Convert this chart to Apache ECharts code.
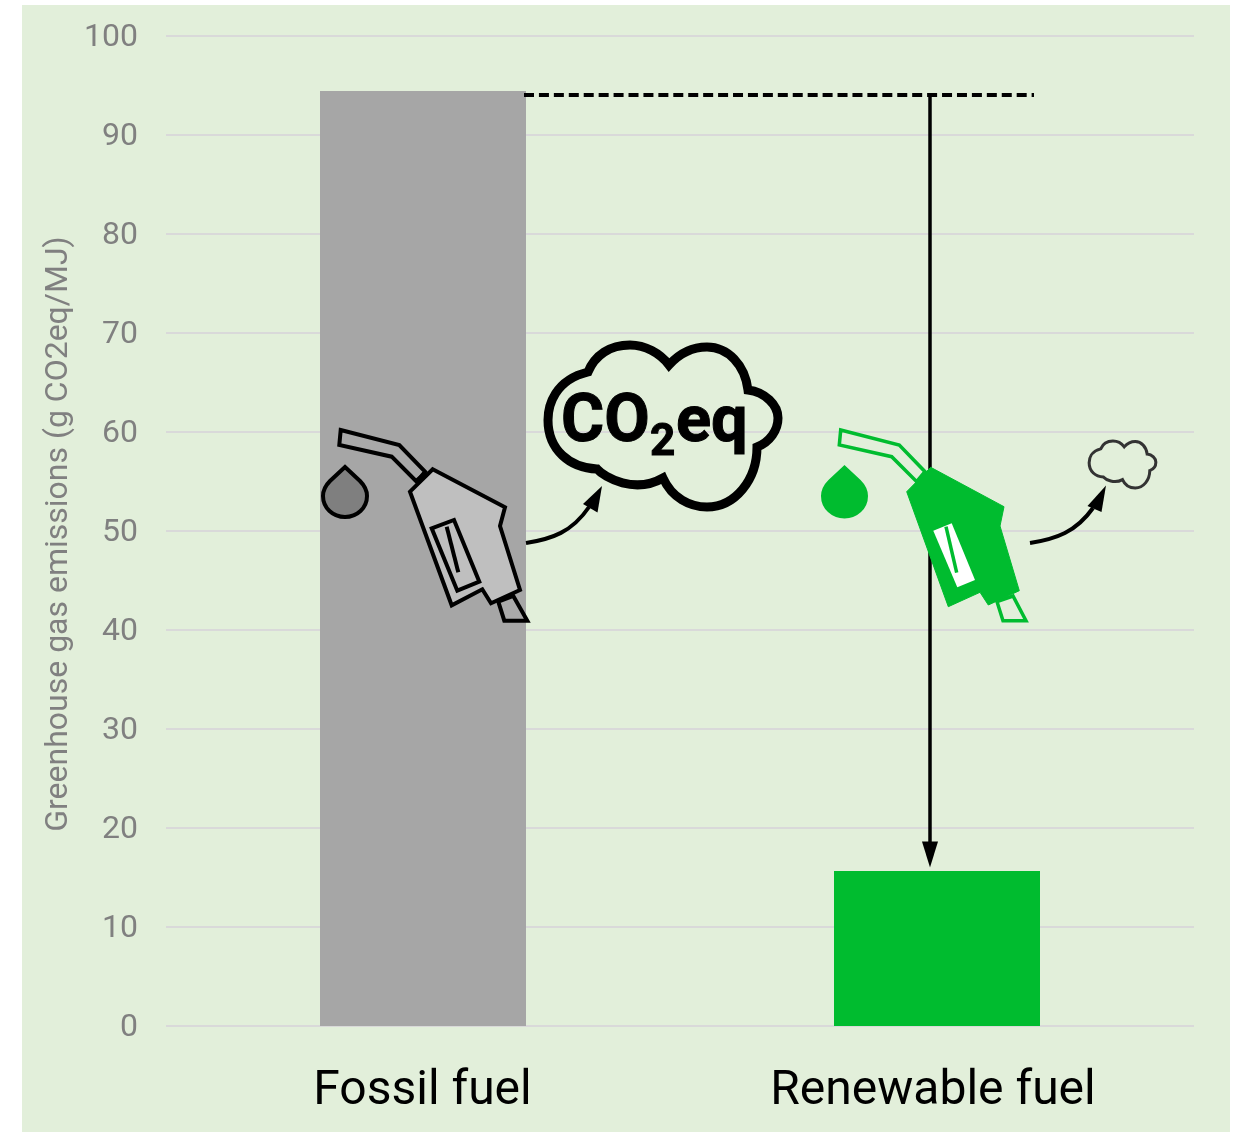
<!DOCTYPE html>
<html>
<head>
<meta charset="utf-8">
<style>html,body{margin:0;padding:0;background:#fff}#chart{width:1238px;height:1132px}</style>
<script src="https://cdn.jsdelivr.net/npm/echarts@6/dist/echarts.min.js"></script>
</head>
<body>
<div id="chart"></div>
<script>
// Lifecycle emissions of the two fuels
const categories = ['Fossil fuel', 'Renewable fuel'];
const emissions = [94.45, 15.65];
const barColors = ['#a6a6a6', '#00bc2f'];
const axisTitle = 'Greenhouse gas emissions (g CO2eq/MJ)';
const yMin = 0;
const yMax = 100;
const yStep = 10;
// Level the dashed reference line sits at, just under the top of the fossil bar
const referenceLevel = 94.05;

const GREEN = '#00bc2f';
const CLOUD = 'M588,372C555,380 548,405 548,420C548,450 570,468 597,469C605,478 635,494 663,478' +
  'C672,498 690,507 707,507C735,507 757,480 757,447C770,442 778,430 778,418C778,405 765,392 748,390' +
  'C745,365 728,347 707,347C690,347 678,355 669,365C660,353 645,345 630,345C610,345 595,355 588,372Z';

function poly(points, style) {
  return { type: 'polygon', shape: { points }, style: Object.assign({ lineJoin: 'miter' }, style) };
}
function seg(x1, y1, x2, y2, lineWidth, stroke, extra) {
  return { type: 'line', shape: { x1, y1, x2, y2 }, style: Object.assign({ stroke, lineWidth }, extra) };
}
function drop(dx, style) {
  const c = 345 + dx;
  return {
    type: 'path', style,
    shape: {
      pathData: `M${c},467L${c + 15},481C${c + 19},485 ${c + 22},490 ${c + 22},496C${c + 22},508 ${c + 12},517 ${c},517C${c - 12},517 ${c - 22},508 ${c - 22},496C${c - 22},490 ${c - 19},485 ${c - 15},481Z`,
      x: c - 22, y: 467, width: 44, height: 50
    }
  };
}
function curvedArrow(d, box, head) {
  return [
    { type: 'path', shape: { pathData: d, x: box[0], y: box[1], width: box[2], height: box[3] }, style: { fill: 'none', stroke: '#000', lineWidth: 4 } },
    poly(head, { fill: '#000' })
  ];
}
function fossilPump() {
  const s = { stroke: '#000', lineWidth: 4 };
  return [
    drop(0, Object.assign({ fill: '#7f7f7f' }, s)),
    poly([[340.7, 430], [399.3, 445], [425, 471.7], [416.7, 481.7], [391.7, 456.7], [339.3, 445]], Object.assign({ fill: '#a9a9a9' }, s)),
    poly([[498.3, 601.7], [513.3, 596], [527.3, 620.7], [504.3, 620.7]], Object.assign({ fill: '#a9a9a9' }, s)),
    poly([[432.7, 469.3], [505, 507.3], [500, 526], [520, 590], [491, 603.3], [482.3, 589.3], [451.7, 605.3], [410, 491.7]], Object.assign({ fill: '#bfbfbf' }, s)),
    seg(416.7, 481.7, 427, 473, 6, '#000'),
    poly([[431.7, 528.3], [454, 520], [479.3, 581.7], [457.3, 590.7]], Object.assign({ fill: '#bfbfbf' }, s)),
    seg(446.7, 526.7, 458.3, 572.3, 4, '#000')
  ];
}
function greenPump() {
  const s = { stroke: GREEN, lineWidth: 3.5, fill: 'none' };
  return [
    drop(499.5, { fill: GREEN, stroke: GREEN, lineWidth: 3 }),
    poly([[840.7, 430], [899.3, 445], [925, 471.7], [916.7, 481.7], [891.7, 456.7], [839.3, 445]], s),
    poly([[997, 601.7], [1013, 596], [1026, 620.7], [1003, 620.7]], s),
    poly([[930.7, 467.3], [1004, 506.7], [1000, 526], [1019.3, 590.7], [988.3, 605], [980, 592.3], [948.3, 606.7], [906.7, 491.7]], { fill: GREEN, stroke: GREEN, lineWidth: 1 }),
    poly([[933.3, 530.7], [951.7, 523.3], [975, 580], [957.3, 587.3]], { fill: '#fff' }),
    seg(946, 526.7, 956.7, 572.7, 3.5, GREEN)
  ];
}
function bigCloud() {
  const label = (text, x, y, size) => ({
    type: 'text', x, y,
    style: { text, fill: '#000', stroke: '#000', lineWidth: 1, font: `bold ${size}px Roboto, sans-serif`, textAlign: 'left', textVerticalAlign: 'bottom' }
  });
  return [
    { type: 'path', shape: { pathData: CLOUD, x: 548, y: 345, width: 230, height: 162 }, style: { fill: 'none', stroke: '#000', lineWidth: 9 } },
    label('CO', 561, 457, 66),
    label('2', 650, 466, 44),
    label('eq', 676, 457, 65)
  ];
}
function smallCloud() {
  return {
    type: 'path',
    shape: { pathData: CLOUD, x: 1088, y: 441, width: 69, height: 47 },
    style: { fill: 'none', stroke: '#333', lineWidth: 3 }
  };
}

// Everything drawn over the bars; vertical anchors come from the value axis
function renderAnnotations(params, api) {
  const yPx = v => api.coord([0, v])[1];
  const refY = yPx(referenceLevel);
  const tipY = yPx(emissions[1] + 0.35);
  const children = [
    seg(524, refY, 1034, refY, 4, '#000', { lineDash: [10, 4.93] }),
    seg(930, refY, 930, tipY - 20, 3.5, '#000'),
    poly([[922, tipY - 26], [938, tipY - 26], [930, tipY]], { fill: '#000' }),
    ...fossilPump(),
    ...greenPump(),
    ...bigCloud(),
    smallCloud(),
    ...curvedArrow('M526,543C552,539 572,532 589,507', [526, 507, 63, 36], [[602, 486], [583, 504], [597.5, 512.5]]),
    ...curvedArrow('M1030,543C1056,539 1076,532 1093,508', [1030, 508, 63, 35], [[1106, 485.5], [1087.5, 506], [1101.5, 512]])
  ];
  return { type: 'group', children };
}

const chart = echarts.init(document.getElementById('chart'), null, { renderer: 'canvas' });
chart.setOption({
  animation: false,
  backgroundColor: 'transparent',
  textStyle: { fontFamily: 'Roboto, sans-serif' },
  graphic: [
    { type: 'rect', z: -10, silent: true, shape: { x: 22, y: 5, width: 1208, height: 1127 }, style: { fill: '#e2efda' } }
  ],
  grid: { left: 166, right: 44, top: 36, bottom: 106 },
  xAxis: {
    type: 'category',
    data: categories,
    axisLine: { show: false },
    axisTick: { show: false },
    axisLabel: {
      interval: 0,
      hideOverlap: false,
      color: '#000', fontSize: 48, margin: 42, fontFamily: 'Roboto, sans-serif',
      formatter: (value, i) => (i === 1 ? `{shifted|${value}}` : `{plain|${value}}`),
      rich: {
        plain: { fontSize: 48, color: '#000', padding: [0, 1, 0, 0] },
        shifted: { fontSize: 48, color: '#000', padding: [0, 8, 0, 0] }
      }
    }
  },
  yAxis: {
    type: 'value',
    min: yMin,
    max: yMax,
    interval: yStep,
    name: axisTitle,
    nameLocation: 'middle',
    nameMoveOverlap: false,
    nameGap: 91,
    nameTextStyle: { color: '#808080', fontSize: 32, padding: [0, 6, 0, 0], fontFamily: 'Roboto, sans-serif' },
    axisLine: { show: false },
    axisTick: { show: false },
    axisLabel: { color: '#808080', fontSize: 32, margin: 28, verticalAlign: 'top', lineHeight: 4, fontFamily: 'Roboto, sans-serif' },
    splitLine: { lineStyle: { color: '#d9d9d9', width: 2 } }
  },
  series: [{
    type: 'bar',
    barWidth: 206,
    z: 5,
    data: emissions.map((value, i) => ({ value, itemStyle: { color: barColors[i] } }))
  }, {
    type: 'custom',
    z: 10,
    silent: true,
    data: [0],
    renderItem: renderAnnotations
  }]
});
</script>
</body>
</html>
